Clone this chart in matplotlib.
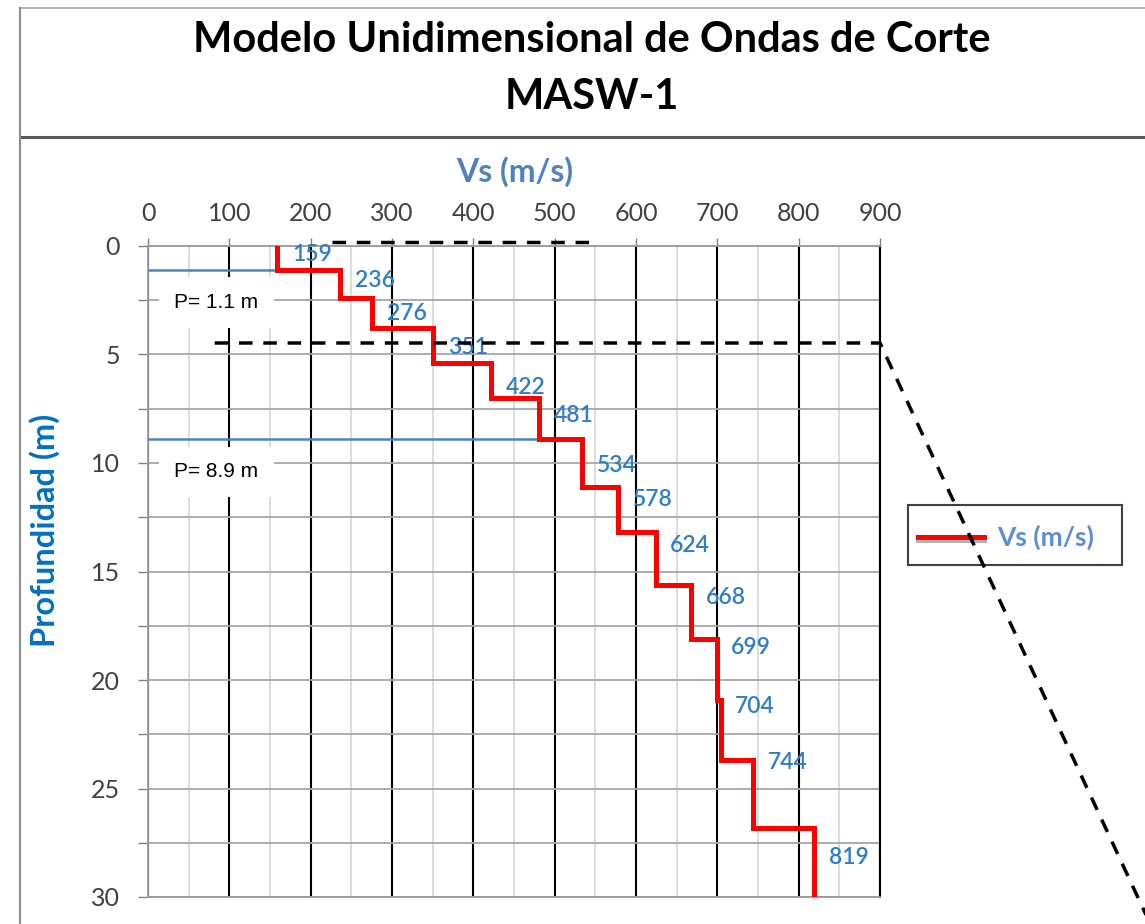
import matplotlib
matplotlib.use("Agg")
import matplotlib.pyplot as plt
import matplotlib.patheffects as pe
from matplotlib.lines import Line2D
from matplotlib.patches import Rectangle
from matplotlib.ticker import MultipleLocator

# --- Shear wave velocity profile (MASW-1) ---
vs = [159, 236, 276, 351, 422, 481, 534, 578, 624, 668, 699, 704, 744, 819]
layer_top = [0, 1.1, 2.4, 3.8, 5.4, 7.0, 8.9, 11.1, 13.2, 15.6, 18.1, 20.9, 23.7, 26.8]
max_depth = 30
layer_bottom = layer_top[1:] + [max_depth]

# depth where each value label sits
label_depth = [0.4, 1.6, 3.1, 4.7, 6.5, 7.8, 10.1, 11.7, 13.8, 16.2, 18.5, 21.2, 23.8, 28.2]

# interface depths marked with a blue line
p_depth = [1.1, 8.9]
p_vs = [159, 481]
p_labels = ["P= 1.1 m", "P= 8.9 m"]

blue_lbl = "#2E7DC6"
W, H = 1145, 924

fig = plt.figure(figsize=(W / 100, H / 100), dpi=100)
fig.patch.set_facecolor("white")

def fx(px):
    return px / W

def fy(py):
    return 1 - py / H

# --- frame and title block ---
fig.add_artist(Line2D([fx(20), 1], [fy(8), fy(8)], color="#A6A6A6", lw=1.2))
fig.add_artist(Line2D([fx(20), 1], [fy(137), fy(137)], color="#595959", lw=2.2))
fig.add_artist(Line2D([fx(20), fx(20)], [fy(8), 0], color="#8C8C8C", lw=1.5))
fig.text(fx(592), fy(40), "Modelo Unidimensional de Ondas de Corte", family="Lato",
         weight="bold", fontsize=30, ha="center", va="center", color="black")
fig.text(fx(592), fy(97), "MASW-1", family="Lato", weight="bold", fontsize=30,
         ha="center", va="center", color="black")

# --- plot area ---
ax = fig.add_axes([fx(148), fy(897), fx(880) - fx(148), fy(246) - fy(897)])

xs, ys = [], []
for v, t, b in zip(vs, layer_top, layer_bottom):
    xs += [v, v]
    ys += [t, b]
ax.plot(xs, ys, color="#FF0000", lw=3.6, solid_joinstyle="miter", zorder=5)

for v, d in zip(vs, label_depth):
    ax.text(v + 18, d, str(v), family="Lato", weight="semibold", fontsize=16.5,
            color=blue_lbl, ha="left", va="center", zorder=6)

for d, v, txt in zip(p_depth, p_vs, p_labels):
    ax.plot([0, v], [d, d], color="#4F81BD", lw=1.8, zorder=4)
    ax.text(84, d + 1.5, txt, family="Liberation Sans", fontsize=15, color="black",
            ha="center", va="center", zorder=4,
            bbox=dict(boxstyle="square,pad=0.75", fc="white", ec="none"))

ax.set_xlim(0, 900)
ax.set_ylim(max_depth, 0)
ax.xaxis.set_major_locator(MultipleLocator(100))
ax.xaxis.set_minor_locator(MultipleLocator(50))
ax.yaxis.set_major_locator(MultipleLocator(5))
ax.yaxis.set_minor_locator(MultipleLocator(2.5))
ax.xaxis.tick_top()

ax.grid(True, which="major", axis="x", color="black", lw=1.5, zorder=1)
ax.grid(True, which="minor", axis="x", color="#D9D9D9", lw=1.3, zorder=0)
ax.grid(True, which="both", axis="y", color="#A6A6A6", lw=1.3, zorder=1)
ax.set_axisbelow(True)

ax.tick_params(axis="x", which="major", top=True, bottom=False, length=6, width=1,
               color="#808080", pad=9, labelsize=18, labelcolor="#404040")
ax.tick_params(axis="x", which="minor", top=False, bottom=False)
ax.tick_params(axis="y", which="both", left=True, length=7, width=1,
               color="#808080", pad=13, labelsize=18, labelcolor="#404040")
for lbl in ax.get_xticklabels() + ax.get_yticklabels():
    lbl.set_family("Lato")

for side in ["left", "top", "bottom"]:
    ax.spines[side].set_color("#9A9A9A")
    ax.spines[side].set_linewidth(1.3)
ax.spines["right"].set_color("black")
ax.spines["right"].set_linewidth(1.5)

fig.text(fx(515), fy(172), "Vs (m/s)", family="Lato", weight="bold", fontsize=23,
         color="#4F81BD", ha="center", va="center")
fig.text(fx(45), fy(530), "Profundidad (m)", family="Lato", weight="bold", fontsize=23.5,
         color="#0070C0", ha="center", va="center", rotation=90)

# --- legend ---
fig.add_artist(Rectangle((fx(908), fy(565)), fx(1122) - fx(908), fy(505) - fy(565),
                         fc="white", ec="#404040", lw=1.5, zorder=3))
fig.add_artist(Line2D([fx(918), fx(984)], [fy(537), fy(537)], color="#FF0000", lw=3.6,
                      zorder=4, path_effects=[pe.SimpleLineShadow(offset=(0, -2.5),
                      shadow_color="#7F7F7F", alpha=0.6), pe.Normal()]))
fig.text(fx(997), fy(537), "Vs (m/s)", family="Lato", weight="bold", fontsize=19,
         color="#5B8ED0", ha="left", va="center", zorder=4)

# --- zoom guide lines (drawn over the legend) ---
dash = (0, (3.9, 3.1))
fig.add_artist(Line2D([226, 543], [-0.18, -0.18], transform=ax.transData, color="black",
                      lw=2.5, ls=dash, zorder=10))
fig.add_artist(Line2D([82, 900, 1300], [4.47, 4.47, 36.7], transform=ax.transData,
                      color="black", lw=2.5, ls=dash, zorder=10))

fig.savefig("out.png", dpi=100)
